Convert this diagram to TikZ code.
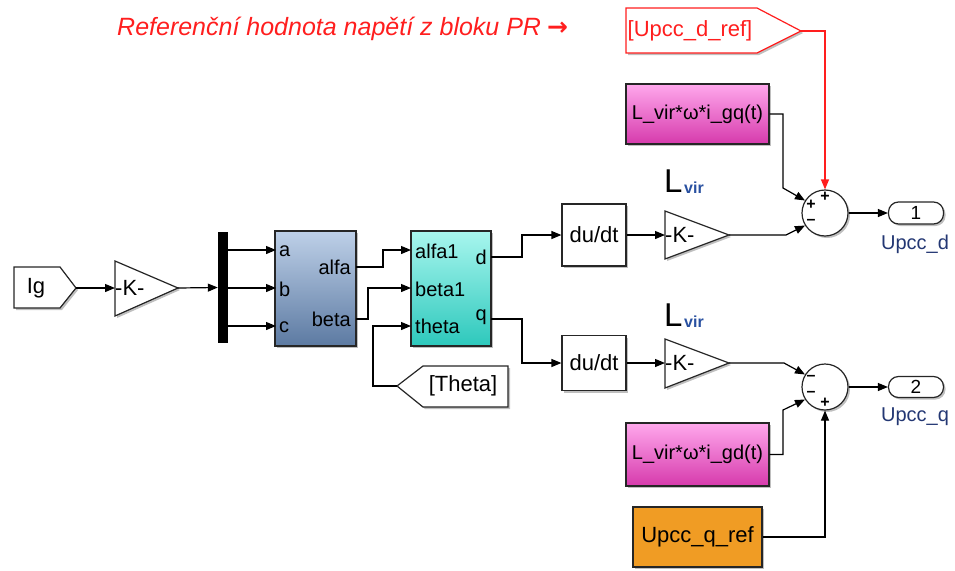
\documentclass[tikz,border=0pt]{standalone}
\usepackage{fontspec}
\setmainfont{Liberation Sans}
\newfontfamily\arrowfont{DejaVu Sans}
\usetikzlibrary{arrows.meta,shadows,calc}
\definecolor{sred}{RGB}{255,30,30}
\definecolor{lblue}{RGB}{35,55,115}
\definecolor{virblue}{RGB}{40,80,160}
\definecolor{bluetop}{RGB}{190,208,232}
\definecolor{bluebot}{RGB}{92,122,162}
\definecolor{cyantop}{RGB}{168,246,238}
\definecolor{cyanbot}{RGB}{45,200,188}
\definecolor{pinktop}{RGB}{255,168,236}
\definecolor{pinkbot}{RGB}{214,58,172}
\definecolor{orng}{RGB}{240,156,36}
\tikzset{
  shd/.style={drop shadow={shadow xshift=2pt,shadow yshift=-2pt,opacity=0.25,fill=black}},
  blk/.style={draw=black!85,line width=1.2pt,inner sep=0pt,shd},
  lbl/.style={font=\fontsize{22}{24}\selectfont,inner sep=0pt},
  prt/.style={font=\fontsize{20}{22}\selectfont,inner sep=0pt},
  sgn/.style={font=\fontsize{16}{17}\selectfont\bfseries,inner sep=0pt},
  wire/.style={line width=1.2pt,-{Triangle[length=10pt,width=8pt]}},
}
\begin{document}
\begin{tikzpicture}[x=1pt,y=-1pt]
\useasboundingbox (0,0) rectangle (955,570);

% title
\node[anchor=base west,text=sred,inner sep=0pt,font=\fontsize{25}{28}\selectfont\itshape] (title) at (117,35) {Referenční hodnota napětí z bloku PR\hspace{6pt}{\arrowfont\upshape\bfseries\fontsize{25}{26}\selectfont →}};

% Ig from-tag
\draw[blk,fill=white] (14,267) -- (60,267) -- (76,288) -- (60,308) -- (14,308) -- cycle;
\node[lbl] (ig) at (36,288) {Ig};
\coordinate (igout) at (76,288);

% gain 1
\draw[blk,fill=white] (115,261) -- (178,288) -- (115,316) -- cycle;
\node[lbl,anchor=west] (g1) at (115,288) {-K-};
\coordinate (g1in) at (115,288);
\coordinate (g1out) at (178,288);

% mux
\node[fill=black,minimum width=10pt,minimum height=111pt,inner sep=0pt] (mux) at (223,287.5) {};

% abc -> alfa beta
\node[blk,top color=bluetop,bottom color=bluebot,minimum width=81pt,minimum height=115pt] (abc) at (315.5,288.5) {};
\node[prt,anchor=west] (pa) at (279,251) {a};
\node[prt,anchor=west] (pb) at (279,289) {b};
\node[prt,anchor=west] (pc) at (279,327) {c};
\node[prt,anchor=east] (palfa) at (351,267) {alfa};
\node[prt,anchor=east] (pbeta) at (351,319) {beta};
\coordinate (ina) at (276,250);
\coordinate (inb) at (276,288);
\coordinate (inc) at (276,326);
\coordinate (alfao) at (356,267);
\coordinate (betao) at (356,319);

% alfa beta -> dq
\node[blk,top color=cyantop,bottom color=cyanbot,minimum width=80pt,minimum height=115pt] (dq) at (451,288.5) {};
\node[prt,anchor=west] (palfa1) at (415,251) {alfa1};
\node[prt,anchor=west] (pbeta1) at (415,289) {beta1};
\node[prt,anchor=west] (ptheta) at (415,326) {theta};
\node[prt,anchor=east] (pd) at (487,257) {d};
\node[prt,anchor=east] (pq) at (487,317) {q};
\coordinate (alfa1) at (411,250);
\coordinate (beta1) at (411,288);
\coordinate (thetain) at (411,326);
\coordinate (dout) at (491,257);
\coordinate (qout) at (491,319);

% [Theta] tag
\draw[blk,fill=white] (397,386) -- (423,366) -- (508,366) -- (508,407) -- (423,407) -- cycle;
\node[lbl] (thetatxt) at (463,386) {[Theta]};
\coordinate (thetatag) at (397,386);

% du/dt
\node[blk,fill=white,minimum width=64pt,minimum height=62pt,lbl] (du1) at (594,235) {du/dt};
\node[blk,fill=white,minimum width=64pt,minimum height=55pt,lbl] (du2) at (594,363) {du/dt};

% gains 2,3
\draw[blk,fill=white] (665,211) -- (729,235) -- (665,259) -- cycle;
\node[lbl,anchor=west] (g2) at (665,235) {-K-};
\coordinate (g2in) at (665,235);
\coordinate (g2out) at (729,235);
\draw[blk,fill=white] (665,339) -- (729,363) -- (665,388) -- cycle;
\node[lbl,anchor=west] (g3) at (665,363) {-K-};
\coordinate (g3in) at (665,363);
\coordinate (g3out) at (729,363);

% L_vir labels
\node[anchor=base west,inner sep=0pt,font=\fontsize{33}{34}\selectfont] (L1) at (664,192) {L};
\node[anchor=base west,inner sep=0pt,font=\fontsize{16}{17}\selectfont\bfseries,text=virblue] (v1) at (684,193) {vir};
\node[anchor=base west,inner sep=0pt,font=\fontsize{33}{34}\selectfont] (L2) at (664,326) {L};
\node[anchor=base west,inner sep=0pt,font=\fontsize{16}{17}\selectfont\bfseries,text=virblue] (v2) at (684,327) {vir};

% [Upcc_d_ref] tag
\draw[blk,draw=sred,fill=white] (626,8) -- (757,8) -- (801,31) -- (757,53) -- (626,53) -- cycle;
\node[lbl,text=sred] (reftxt) at (690,31) {[Upcc\_d\_ref]};
\coordinate (reftip) at (801,31);

% pink blocks
\node[blk,top color=pinktop,bottom color=pinkbot,minimum width=143pt,minimum height=60pt,font=\fontsize{20}{22}\selectfont] (pk1) at (697.5,114) {L\_vir*ω*i\_gq(t)};
\node[blk,top color=pinktop,bottom color=pinkbot,minimum width=143pt,minimum height=63pt,font=\fontsize{20}{22}\selectfont] (pk2) at (697.5,454.5) {L\_vir*ω*i\_gd(t)};

% orange
\node[blk,fill=orng,minimum width=129pt,minimum height=60pt,lbl] (orq) at (697.5,537) {Upcc\_q\_ref};

% sums
\node[circle,draw=black!85,line width=1.2pt,fill=white,minimum size=46pt,inner sep=0pt,shd] (sum1) at (825,213) {};
\node[circle,draw=black!85,line width=1.2pt,fill=white,minimum size=46pt,inner sep=0pt,shd] (sum2) at (825,387) {};
\node[sgn] (s1a) at (811,205) {+};
\node[sgn] (s1b) at (825,197) {+};
\node[sgn] (s1c) at (811,222) {–};
\node[sgn] (s2a) at (811,378) {–};
\node[sgn] (s2b) at (811,394) {–};
\node[sgn] (s2c) at (825,403) {+};

% outports
\node[draw=black!85,line width=1.2pt,rounded corners=10pt,fill=white,minimum width=55pt,minimum height=22pt,inner sep=0pt,font=\fontsize{19}{20}\selectfont,shd] (out1) at (916,213) {1};
\node[draw=black!85,line width=1.2pt,rounded corners=10pt,fill=white,minimum width=55pt,minimum height=21pt,inner sep=0pt,font=\fontsize{19}{20}\selectfont,shd] (out2) at (916,387) {2};
\node[anchor=base,inner sep=0pt,font=\fontsize{20}{22}\selectfont,text=lblue] (n1) at (915,249) {Upcc\_d};
\node[anchor=base,inner sep=0pt,font=\fontsize{20}{22}\selectfont,text=lblue] (n2) at (915,421) {Upcc\_q};

% wires
\draw[wire] (igout) -- (g1in);
\draw[wire] (g1out) -- (mux.west);
\draw[wire] (mux.east |- ina) -- (ina);
\draw[wire] (mux.east |- inb) -- (inb);
\draw[wire] (mux.east |- inc) -- (inc);
\draw[wire] (alfao) -- ++(27,0) |- (alfa1);
\draw[wire] (betao) -- ++(12,0) |- (beta1);
\draw[wire] (thetatag) -- ++(-24,0) |- (thetain);
\draw[wire] (dout) -- ++(31,0) |- (du1.west);
\draw[wire] (qout) -- ++(31,0) |- (du2.west);
\draw[wire] (du1.east) -- (g2in);
\draw[wire] (du2.east) -- (g3in);

\coordinate (b1) at (783,188);
\coordinate (b2) at (786,235);
\coordinate (b3) at (784,363);
\coordinate (b4) at (783,410);
\draw[wire] (pk1.east) -| (b1) -- (sum1.148);
\draw[wire] (g2out) -- (b2) -- (sum1.212);
\draw[wire,color=sred] (reftip) -| (sum1.north);
\draw[wire] (sum1.east) -- (out1.west);
\draw[wire] (g3out) -- (b3) -- (sum2.148);
\draw[wire] (pk2.east) -| (b4) -- (sum2.212);
\draw[wire] (orq.east) -| (sum2.south);
\draw[wire] (sum2.east) -- (out2.west);
\end{tikzpicture}
\end{document}
